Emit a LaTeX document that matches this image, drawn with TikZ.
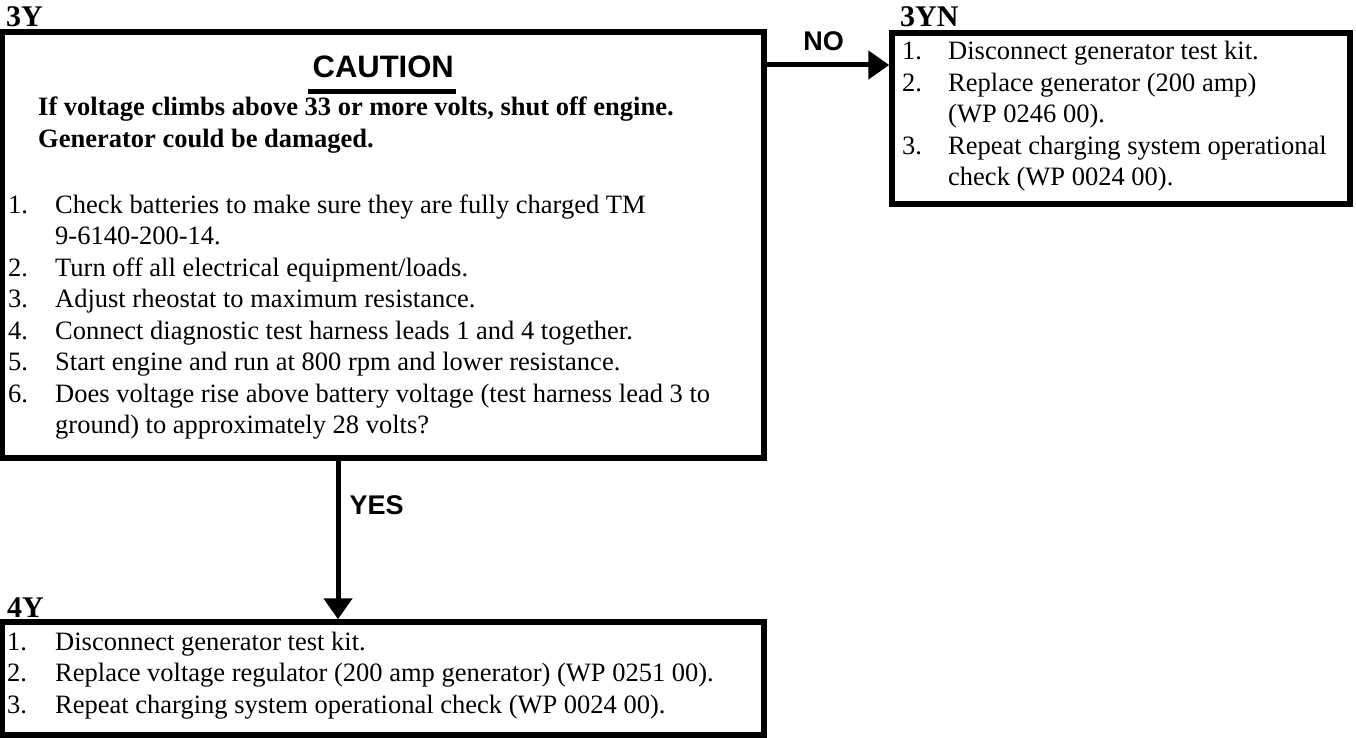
\documentclass[tikz,border=0pt]{standalone}
\usepackage{fontspec}
\setmainfont{Liberation Serif}
\newfontfamily\headfont{Liberation Sans}
\usetikzlibrary{arrows.meta,positioning}

\tikzset{
  stepbox/.style={draw, line width=5.5pt, inner sep=0pt, outer sep=0pt, anchor=north west},
  boxlabel/.style={anchor=base west, inner sep=0pt, font=\bfseries\fontsize{30}{36}\selectfont},
  itemtext/.style={anchor=base west, inner sep=0pt, font=\fontsize{26.5}{31.5}\selectfont},
  answer/.style={inner sep=0pt, font=\headfont\bfseries\fontsize{27}{32}\selectfont},
  cautionhead/.style={anchor=base, inner sep=0pt, font=\headfont\bfseries\fontsize{31}{36}\selectfont},
  flow/.style={-{Triangle[length=21pt,width=28pt]}, line width=5pt, shorten >=2.75pt}
}

\begin{document}
\begin{tikzpicture}[x=1pt,y=-1pt]
  \useasboundingbox (0,0) rectangle (1356,738);

  % boxes
  \node[stepbox, minimum width=761.5pt, minimum height=426pt] (ybox) at (2.5,32) {};
  \node[stepbox, minimum width=458pt, minimum height=171pt] (ynbox) at (892,33) {};
  \node[stepbox, minimum width=761.5pt, minimum height=113pt] (fourbox) at (2.5,622) {};

  % step labels
  \node[boxlabel] (ylabel) at ([xshift=3.5pt,yshift=5pt]ybox.north west) {3Y};
  \node[boxlabel] (ynlabel) at ([xshift=8pt,yshift=6pt]ynbox.north west) {3YN};
  \node[boxlabel] (fourlabel) at ([xshift=4.5pt,yshift=5pt]fourbox.north west) {4Y};

  % caution
  \node[cautionhead] (caution) at ([yshift=-46pt]ybox.north) {CAUTION};
  \draw[line width=5pt] ([xshift=-4pt,yshift=-13.5pt]caution.base west) -- ([xshift=2pt,yshift=-13.5pt]caution.base east);
  \node[itemtext, font=\bfseries\fontsize{26.5}{32}\selectfont] (cautiontext) at ([xshift=35.5pt,yshift=-84pt]ybox.north west)
    {\begin{tabular}[t]{@{}l@{}}
      If voltage climbs above 33 or more volts, shut off engine.\\
      Generator could be damaged.
    \end{tabular}};

  % steps
  \node[itemtext] (yitems) at ([xshift=5.5pt,yshift=-181pt]ybox.north west)
    {\begin{tabular}[t]{@{}p{47pt}@{}p{700pt}@{}}
      1. & Check batteries to make sure they are fully charged TM\newline 9-6140-200-14.\\
      2. & Turn off all electrical equipment/loads.\\
      3. & Adjust rheostat to maximum resistance.\\
      4. & Connect diagnostic test harness leads 1 and 4 together.\\
      5. & Start engine and run at 800 rpm and lower resistance.\\
      6. & Does voltage rise above battery voltage (test harness lead 3 to\newline ground) to approximately 28 volts?
    \end{tabular}};

  \node[itemtext] (ynitems) at ([xshift=10pt,yshift=-27pt]ynbox.north west)
    {\begin{tabular}[t]{@{}p{46pt}@{}p{420pt}@{}}
      1. & Disconnect generator test kit.\\
      2. & Replace generator (200 amp)\newline (WP 0246 00).\\
      3. & Repeat charging system operational\newline check (WP 0024 00).
    \end{tabular}};

  \node[itemtext] (fouritems) at ([xshift=4.5pt,yshift=-28pt]fourbox.north west)
    {\begin{tabular}[t]{@{}p{48pt}@{}p{700pt}@{}}
      1. & Disconnect generator test kit.\\
      2. & Replace voltage regulator (200 amp generator) (WP 0251 00).\\
      3. & Repeat charging system operational check (WP 0024 00).
    \end{tabular}};

  % arrows
  \coordinate (nofrom) at ([yshift=-33pt]ybox.north east);
  \draw[flow] (nofrom) -- node[answer, midway, above=12pt, xshift=-4.5pt] (nolabel) {NO} (nofrom -| ynbox.west);
  \coordinate (yesfrom) at ([xshift=335.5pt]ybox.south west);
  \draw[flow] (yesfrom) -- node[answer, pos=0.287, right=9pt] (yeslabel) {YES} (yesfrom |- fourbox.north);
\end{tikzpicture}
\end{document}
